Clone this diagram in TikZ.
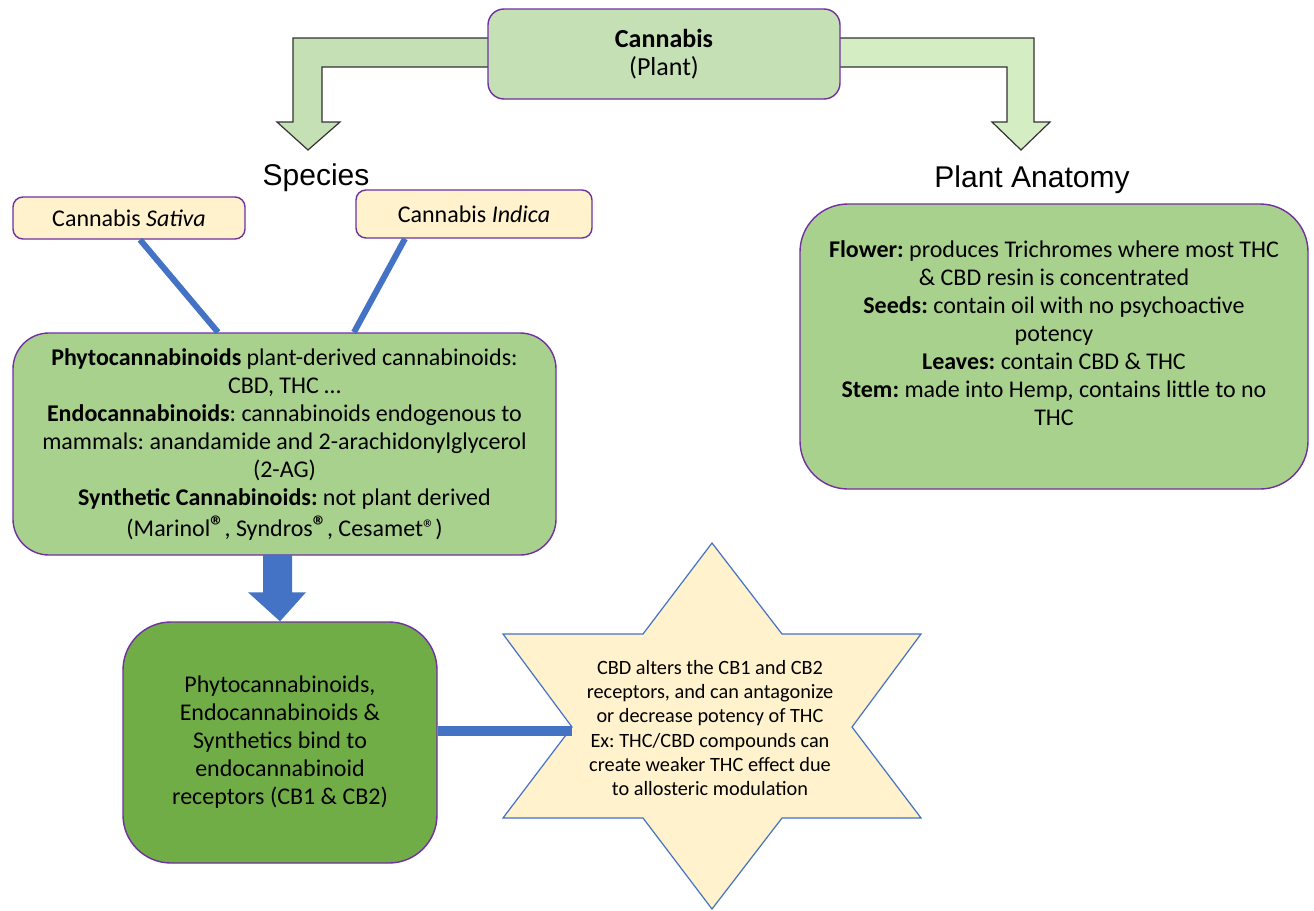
\documentclass[tikz,border=0pt]{standalone}
\usepackage{fontspec}
\setmainfont{Carlito}
\newfontfamily\arialf{Liberation Sans}
\usetikzlibrary{calc}
\frenchspacing
\definecolor{lgreen}{HTML}{C5E0B4}
\definecolor{lgreenR}{HTML}{D4EDC2}
\definecolor{mgreen}{HTML}{A9D18E}
\definecolor{dgreen}{HTML}{70AD47}
\definecolor{cream}{HTML}{FFF2CC}
\definecolor{purp}{HTML}{7030A0}
\definecolor{bblue}{HTML}{4472C4}
\newcommand{\regbig}{\raisebox{1pt}{\fontsize{28}{28}\selectfont\textbf{®}}}
\newcommand{\regsmall}{{\fontsize{24}{24}\selectfont ®}}
\tikzset{
  box/.style={draw=purp, line width=1.4pt, inner sep=0pt, align=center},
  boxtext/.style={font=\frenchspacing\fontsize{24}{28}\selectfont},
  bent/.style={draw=black!80, line width=1.2pt, line join=miter},
  link/.style={draw=bblue, line width=6pt},
  title/.style={font=\arialf\fontsize{30}{36}\selectfont, anchor=base, inner sep=0pt},
}
\begin{document}
\begin{tikzpicture}[x=1pt,y=-1pt]
\fill[white] (0,0) rectangle (1314,910);
\useasboundingbox (0,0) rectangle (1314,910);

% bent arrows
\draw[bent, fill=lgreen] (500,38) -- (293,38) -- (293,122) -- (277,122) -- (308,150) -- (340,122) -- (322,122) -- (322,67) -- (500,67);
\draw[bent, fill=lgreenR] (830,38) -- (1034,38) -- (1034,122) -- (1050,122) -- (1021,150) -- (992,122) -- (1007,122) -- (1007,67) -- (830,67);

% top box
\node[box, font=\fontsize{26}{28}\selectfont, fill=lgreen, rounded corners=16pt, minimum width=352pt, minimum height=90pt] (plant) at (664,54) {\textbf{Cannabis}\\(Plant)};

% titles
\node[title] (species) at (316,185) {Species};
\node[title] (anatomy) at (1032,187) {Plant Anatomy};

% species boxes
\node[box, boxtext, fill=cream, rounded corners=10pt, minimum width=232pt, minimum height=42pt] (sativa) at (129,218) {Cannabis \textit{Sativa}};
\node[box, boxtext, fill=cream, rounded corners=10pt, minimum width=236pt, minimum height=48pt] (indica) at (474,214) {Cannabis \textit{Indica}};

% phyto box
\node[box, fill=mgreen, rounded corners=36pt, minimum width=543pt, minimum height=222pt] (phyto) at (284.5,444) {};
\node[boxtext, align=center, inner sep=0pt] (phytotext) at (284.5,445) {\textbf{Phytocannabinoids} plant-derived cannabinoids:\\ CBD, THC …\\ \textbf{Endocannabinoids}: cannabinoids endogenous to\\ mammals: anandamide and 2-arachidonylglycerol\\ (2-AG)\\ \textbf{Synthetic Cannabinoids:} not plant derived\\[3pt] (Marinol\regbig, Syndros\regbig, Cesamet\regsmall)};

% blue links from species
\draw[link] ($(sativa.south)+(11,0)$) -- ($(phyto.north)+(-66.5,0)$);
\draw[link] ($(indica.south)+(-69,0)$) -- ($(phyto.north)+(69.5,0)$);

% anatomy box
\node[box, fill=mgreen, rounded corners=48pt, minimum width=508pt, minimum height=285pt] (anat) at (1054,346.5) {};
\node[boxtext, align=center, inner sep=0pt] (anattext) at (1054,333) {\textbf{Flower:} produces Trichromes where most THC\\ \& CBD resin is concentrated\\ \textbf{Seeds:} contain oil with no psychoactive\\ potency\\ \textbf{Leaves:} contain CBD \& THC\\ \textbf{Stem:} made into Hemp, contains little to no\\ THC};

% dark green box
\node[box, boxtext, fill=dgreen, rounded corners=48pt, minimum width=314pt, minimum height=241pt] (bind) at (280,742.5) {Phytocannabinoids,\\ Endocannabinoids \&\\ Synthetics bind to\\ endocannabinoid\\ receptors (CB1 \& CB2)};

% block arrow
\fill[bblue] ($(phyto.south)+(-21.5,-1)$) -- ($(phyto.south)+(7.5,-1)$) -- ($(bind.north)+(12,-29)$) -- ($(bind.north)+(26,-29)$) -- (bind.north) -- ($(bind.north)+(-32,-29)$) -- ($(bind.north)+(-17,-29)$) -- cycle;

% star
\coordinate (starL) at (572,731);
\draw[draw=bblue, line width=1.2pt, fill=cream, line join=miter]
  (712,543) -- (782,634) -- (921,634) -- (852,727) -- (921,818) -- (782,818) -- (712,909) -- (643,818) -- (503,818) -- (572,727) -- (503,634) -- (643,634) -- cycle;
\node[align=center, inner sep=0pt, font=\frenchspacing\fontsize{20.3}{24.2}\selectfont] (startext) at (710,728) {CBD alters the CB1 and CB2\\ receptors, and can antagonize\\ or decrease potency of THC\\ Ex: THC/CBD compounds can\\ create weaker THC effect due\\ to allosteric modulation};

% link to star
\draw[draw=bblue, line width=10pt] (bind.east |- starL) -- (starL);
\end{tikzpicture}
\end{document}
